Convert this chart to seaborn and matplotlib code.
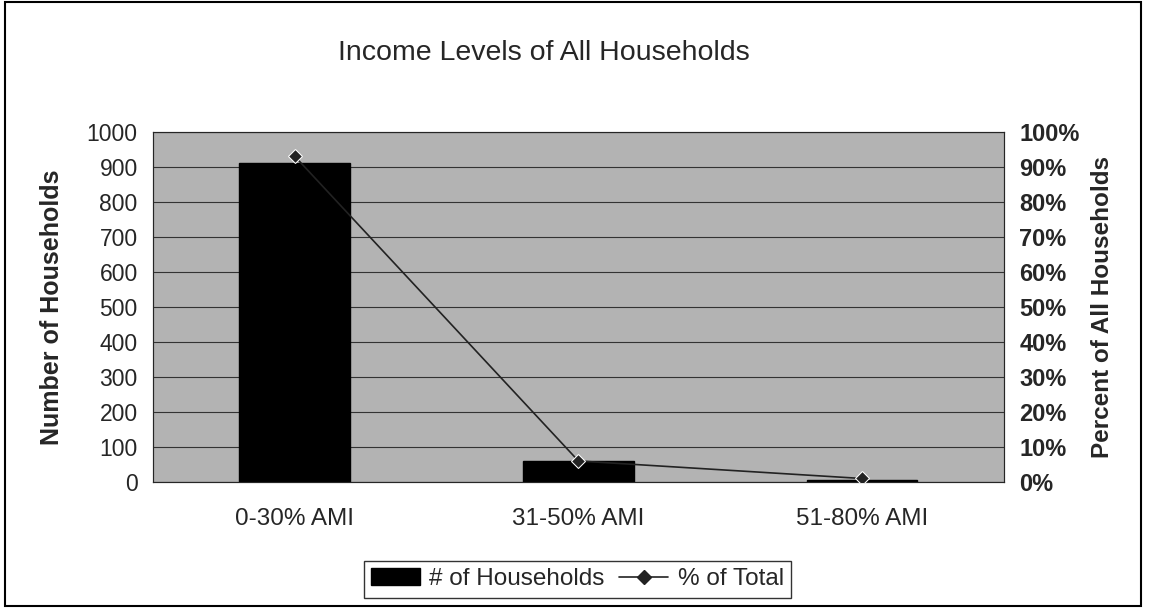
import matplotlib.pyplot as plt
import matplotlib.patches as mpatches
from matplotlib.lines import Line2D
from matplotlib.ticker import PercentFormatter
import numpy as np
import seaborn as sns

# values
categories = ["0-30% AMI", "31-50% AMI", "51-80% AMI"]
households = [912, 60, 6]
pct_total = [93, 6, 1]

sns.set_style("white")
plt.rcParams['font.family'] = ['Liberation Sans', 'DejaVu Sans']

fig = plt.figure(figsize=(11.5, 6.13), dpi=100)
ax = fig.add_axes([0.133, 0.2137, 0.740, 0.5713])
ax.set_facecolor('#b3b3b3')

sns.barplot(x=categories, y=households, color='black', width=0.39,
            saturation=1, edgecolor='black', ax=ax, zorder=3)
ax.set_ylim(0, 1000)
ax.set_yticks(range(0, 1001, 100))
ax.grid(axis='y', color='#333333', linewidth=0.8, zorder=0)
ax.set_axisbelow(True)
ax.set_xlabel("")
ax.set_ylabel("Number of Households", fontsize=18, fontweight='bold')
ax.yaxis.set_label_coords(-0.119, 0.5)
ax.yaxis.label.set_va('center')
ax.tick_params(axis='y', labelsize=16.5, length=0, pad=11)
ax.tick_params(axis='x', labelsize=17.5, length=0, pad=19)
for s in ax.spines.values():
    s.set_color('#555555')
    s.set_linewidth(0.8)

ax2 = ax.twinx()
sns.lineplot(x=np.arange(len(categories)), y=pct_total, ax=ax2, color='#222222',
             marker='D', markersize=7, linewidth=1.2, zorder=4)
ax2.set_ylim(0, 100)
ax2.set_yticks(range(0, 101, 10))
ax2.yaxis.set_major_formatter(PercentFormatter(decimals=0))
ax2.set_ylabel("Percent of All Households", fontsize=17.5, fontweight='bold', rotation=90)
ax2.yaxis.set_label_coords(1.116, 0.5)
ax2.yaxis.label.set_va('center')
ax2.tick_params(axis='y', labelsize=17, length=0, pad=11)
for lbl in ax2.get_yticklabels():
    lbl.set_fontweight('bold')
ax.set_xlim(-0.5, 2.5)

fig.text(0.473, 0.913, "Income Levels of All Households", ha='center', va='center',
         fontsize=20.5)

handles = [mpatches.Patch(color='black', label='# of Households'),
           Line2D([0], [0], color='#222222', marker='D', markersize=7,
                  linewidth=1.2, label='% of Total')]
leg = fig.legend(handles=handles, loc='center', bbox_to_anchor=(0.502, 0.055), ncol=2,
                 fontsize=17.5, frameon=True, fancybox=False, handlelength=2.0,
                 columnspacing=0.6, borderpad=0.3, handletextpad=0.4)
leg.get_frame().set_edgecolor('black')
leg.get_frame().set_linewidth(1.0)

fig.add_artist(mpatches.Rectangle((0.004, 0.012), 0.988, 0.985, transform=fig.transFigure,
                                  fill=False, edgecolor='black', linewidth=1.5))

fig.savefig('out.png', dpi=100)
